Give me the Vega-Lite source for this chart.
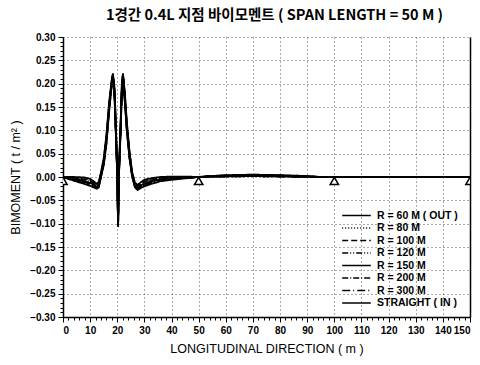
{
  "$schema": "https://vega.github.io/schema/vega-lite/v6.json",
  "width": 407,
  "height": 280,
  "autosize": "none",
  "padding": {"left": 63, "top": 37, "right": 10, "bottom": 48},
  "title": {"text": "1경간 0.4L 지점 바이모멘트 ( SPAN LENGTH = 50 M )", "font": "Noto Sans CJK KR", "fontSize": 14.5, "fontWeight": "bold", "color": "black", "offset": 9, "anchor": "middle", "dx": 8},
  "config": {
    "view": {"stroke": null},
    "axis": {"labelFont": "Liberation Sans", "labelFontWeight": "bold", "labelFontSize": 10, "labelColor": "black", "tickColor": "black", "domainColor": "black", "domainWidth": 1.5, "tickWidth": 1, "titleFont": "Liberation Sans", "titleFontWeight": "normal", "titleFontSize": 12.5, "titleColor": "black"}
  },
  "resolve": {"axis": {"x": "independent", "y": "independent"}},
  "layer": [
    {
      "data": {"values": [
        {"x":0,"r60":0,"r80":0,"r100":0,"r120":0,"r150":0,"r200":0,"r300":0,"str":0},
        {"x":4,"r60":0,"r80":-0.001,"r100":-0.002,"r120":-0.003,"r150":-0.005,"r200":-0.006,"r300":-0.007,"str":-0.008},
        {"x":8,"r60":-0.001,"r80":-0.003,"r100":-0.005,"r120":-0.007,"r150":-0.009,"r200":-0.011,"r300":-0.013,"str":-0.015},
        {"x":10,"r60":-0.004,"r80":-0.006,"r100":-0.008,"r120":-0.010,"r150":-0.013,"r200":-0.015,"r300":-0.017,"str":-0.019},
        {"x":11.5,"r60":-0.010,"r80":-0.012,"r100":-0.014,"r120":-0.016,"r150":-0.017,"r200":-0.019,"r300":-0.021,"str":-0.023},
        {"x":12.5,"r60":-0.015,"r80":-0.016,"r100":-0.018,"r120":-0.019,"r150":-0.021,"r200":-0.022,"r300":-0.024,"str":-0.025},
        {"x":13.2,"r60":-0.010,"r80":-0.012,"r100":-0.013,"r120":-0.015,"r150":-0.017,"r200":-0.019,"r300":-0.020,"str":-0.022},
        {"x":14,"r60":0.010,"r80":0.009,"r100":0.007,"r120":0.006,"r150":0.004,"r200":0.003,"r300":0.001,"str":0},
        {"x":15,"r60":0.040,"r80":0.038,"r100":0.036,"r120":0.034,"r150":0.031,"r200":0.029,"r300":0.027,"str":0.025},
        {"x":16,"r60":0.090,"r80":0.087,"r100":0.084,"r120":0.081,"r150":0.079,"r200":0.076,"r300":0.073,"str":0.070},
        {"x":17,"r60":0.160,"r80":0.157,"r100":0.154,"r120":0.151,"r150":0.149,"r200":0.146,"r300":0.143,"str":0.140},
        {"x":18,"r60":0.210,"r80":0.209,"r100":0.207,"r120":0.206,"r150":0.204,"r200":0.203,"r300":0.201,"str":0.200},
        {"x":18.4,"r60":0.222,"r80":0.221,"r100":0.220,"r120":0.219,"r150":0.217,"r200":0.216,"r300":0.215,"str":0.214},
        {"x":19,"r60":0.190,"r80":0.187,"r100":0.184,"r120":0.181,"r150":0.179,"r200":0.176,"r300":0.173,"str":0.170},
        {"x":19.6,"r60":0.090,"r80":0.087,"r100":0.084,"r120":0.081,"r150":0.079,"r200":0.076,"r300":0.073,"str":0.070},
        {"x":20,"r60":0.010,"r80":0.009,"r100":0.007,"r120":0.006,"r150":0.004,"r200":0.003,"r300":0.001,"str":0},
        {"x":20.3,"r60":-0.095,"r80":-0.097,"r100":-0.099,"r120":-0.101,"r150":-0.103,"r200":-0.104,"r300":-0.106,"str":-0.107},
        {"x":20.6,"r60":0.010,"r80":0.009,"r100":0.007,"r120":0.006,"r150":0.004,"r200":0.003,"r300":0.001,"str":0},
        {"x":21.2,"r60":0.110,"r80":0.107,"r100":0.104,"r120":0.101,"r150":0.099,"r200":0.096,"r300":0.093,"str":0.090},
        {"x":21.7,"r60":0.200,"r80":0.198,"r100":0.196,"r120":0.194,"r150":0.191,"r200":0.189,"r300":0.187,"str":0.185},
        {"x":22.1,"r60":0.222,"r80":0.221,"r100":0.220,"r120":0.219,"r150":0.217,"r200":0.216,"r300":0.215,"str":0.214},
        {"x":22.8,"r60":0.180,"r80":0.177,"r100":0.174,"r120":0.171,"r150":0.169,"r200":0.166,"r300":0.163,"str":0.160},
        {"x":23.5,"r60":0.120,"r80":0.117,"r100":0.114,"r120":0.111,"r150":0.109,"r200":0.106,"r300":0.103,"str":0.100},
        {"x":24.5,"r60":0.055,"r80":0.053,"r100":0.051,"r120":0.049,"r150":0.046,"r200":0.044,"r300":0.042,"str":0.040},
        {"x":25.5,"r60":0.010,"r80":0.009,"r100":0.007,"r120":0.006,"r150":0.004,"r200":0.003,"r300":0.001,"str":0},
        {"x":26.5,"r60":-0.012,"r80":-0.013,"r100":-0.015,"r120":-0.016,"r150":-0.018,"r200":-0.019,"r300":-0.021,"str":-0.022},
        {"x":27.5,"r60":-0.017,"r80":-0.019,"r100":-0.020,"r120":-0.022,"r150":-0.023,"r200":-0.025,"r300":-0.026,"str":-0.028},
        {"x":28.5,"r60":-0.012,"r80":-0.014,"r100":-0.015,"r120":-0.017,"r150":-0.019,"r200":-0.021,"r300":-0.022,"str":-0.024},
        {"x":30,"r60":-0.006,"r80":-0.008,"r100":-0.010,"r120":-0.012,"r150":-0.014,"r200":-0.016,"r300":-0.018,"str":-0.020},
        {"x":33,"r60":-0.002,"r80":-0.004,"r100":-0.005,"r120":-0.007,"r150":-0.009,"r200":-0.011,"r300":-0.012,"str":-0.014},
        {"x":36,"r60":0,"r80":-0.001,"r100":-0.003,"r120":-0.004,"r150":-0.005,"r200":-0.006,"r300":-0.008,"str":-0.009},
        {"x":40,"r60":0.001,"r80":0,"r100":-0.001,"r120":-0.002,"r150":-0.003,"r200":-0.004,"r300":-0.005,"str":-0.006},
        {"x":45,"r60":0.001,"r80":0,"r100":0,"r120":-0.001,"r150":-0.001,"r200":-0.002,"r300":-0.002,"str":-0.003},
        {"x":50,"r60":0,"r80":0,"r100":0,"r120":0,"r150":0,"r200":0,"r300":0,"str":0},
        {"x":55,"r60":0.002,"r80":0.002,"r100":0.002,"r120":0.002,"r150":0.001,"r200":0.001,"r300":0.001,"str":0.001},
        {"x":60,"r60":0.004,"r80":0.004,"r100":0.003,"r120":0.003,"r150":0.002,"r200":0.002,"r300":0.001,"str":0.001},
        {"x":70,"r60":0.005,"r80":0.005,"r100":0.004,"r120":0.004,"r150":0.003,"r200":0.003,"r300":0.002,"str":0.002},
        {"x":80,"r60":0.004,"r80":0.004,"r100":0.003,"r120":0.003,"r150":0.002,"r200":0.002,"r300":0.001,"str":0.001},
        {"x":90,"r60":0.002,"r80":0.002,"r100":0.001,"r120":0.001,"r150":0.001,"r200":0.001,"r300":0,"str":0},
        {"x":95,"r60":0,"r80":0,"r100":0,"r120":0,"r150":0,"r200":0,"r300":0,"str":0},
        {"x":150,"r60":0,"r80":0,"r100":0,"r120":0,"r150":0,"r200":0,"r300":0,"str":0}
      ]},
      "transform": [{"fold": ["r60","r80","r100","r120","r150","r200","r300","str"], "as": ["s","y"]}],
      "mark": {"type": "line", "color": "black", "strokeWidth": 1.8, "clip": true},
      "encoding": {
        "x": {"field": "x", "type": "quantitative", "scale": {"domain": [0,150], "nice": false},
              "axis": {"orient": "bottom", "values": [0,10,20,30,40,50,60,70,80,90,100,110,120,130,140,150], "grid": true, "gridDash": [1,3], "gridColor": "#555", "gridWidth": 1, "tickSize": 5, "labelPadding": 3, "title": "LONGITUDINAL DIRECTION  ( m )", "titlePadding": 7}},
        "y": {"field": "y", "type": "quantitative", "scale": {"domain": [-0.3,0.3], "nice": false, "zero": false},
              "axis": {"orient": "left", "values": [-0.3,-0.25,-0.2,-0.15,-0.1,-0.05,0,0.05,0.1,0.15,0.2,0.25,0.3], "format": ".2f", "grid": true, "gridDash": [1,3], "gridColor": "#555", "gridWidth": 1, "tickSize": 5, "labelPadding": 3, "title": "BIMOMENT ( t / m² )", "titlePadding": 7}},
        "strokeDash": {"field": "s", "type": "nominal",
              "scale": {"domain": ["r60","r80","r100","r120","r150","r200","r300","str"], "range": [[1,0],[1,2],[6,3],[6,2,1,2,1,2],[1,0],[6,2,1,2],[8,3,1,3],[1,0]]},
              "legend": {"title": null, "orient": "none", "legendX": 287, "legendY": 172, "symbolType": "M-2.6,0H2.6", "symbolSize": 121, "symbolStrokeWidth": 1.6, "symbolStrokeColor": "black", "labelFont": "Liberation Sans", "labelFontWeight": "bold", "labelFontSize": 10.5, "labelColor": "black", "rowPadding": 0.5, "labelOffset": 14,
                "labelExpr": "{'r60':'R = 60 M ( OUT )','r80':'R = 80 M','r100':'R = 100 M','r120':'R = 120 M','r150':'R = 150 M','r200':'R = 200 M','r300':'R = 300 M','str':'STRAIGHT ( IN )'}[datum.label]"}}
      }
    },
    {
      "data": {"values": [{"x":0,"y":-0.0085},{"x":50,"y":-0.0085},{"x":100,"y":-0.0085},{"x":150,"y":-0.0085}]},
      "mark": {"type": "point", "shape": "triangle-up", "filled": true, "fill": "white", "stroke": "black", "strokeWidth": 1.5, "size": 70, "opacity": 1, "clip": true},
      "encoding": {
        "x": {"field": "x", "type": "quantitative", "scale": {"domain": [0,150], "nice": false},
              "axis": {"orient": "bottom", "values": [2,4,6,8,12,14,16,18,22,24,26,28,32,34,36,38,42,44,46,48,52,54,56,58,62,64,66,68,72,74,76,78,82,84,86,88,92,94,96,98,102,104,106,108,112,114,116,118,122,124,126,128,132,134,136,138,142,144,146,148], "labels": false, "domain": false, "grid": false, "tickSize": 3, "title": null}},
        "y": {"field": "y", "type": "quantitative", "scale": {"domain": [-0.3,0.3], "nice": false, "zero": false},
              "axis": {"orient": "left", "values": [-0.29,-0.28,-0.27,-0.26,-0.24,-0.23,-0.22,-0.21,-0.19,-0.18,-0.17,-0.16,-0.14,-0.13,-0.12,-0.11,-0.09,-0.08,-0.07,-0.06,-0.04,-0.03,-0.02,-0.01,0.01,0.02,0.03,0.04,0.06,0.07,0.08,0.09,0.11,0.12,0.13,0.14,0.16,0.17,0.18,0.19,0.21,0.22,0.23,0.24,0.26,0.27,0.28,0.29], "labels": false, "domain": false, "grid": false, "tickSize": 3, "title": null}}
      }
    },
    {
      "data": {"values": [{"x":0,"y":0}]},
      "mark": {"type": "point", "opacity": 0},
      "encoding": {
        "x": {"field": "x", "type": "quantitative", "scale": {"domain": [0,150], "nice": false}, "axis": null},
        "y": {"field": "y", "type": "quantitative", "scale": {"domain": [-0.3,0.3], "nice": false, "zero": false},
              "axis": {"orient": "right", "labels": false, "ticks": false, "grid": false, "domain": true, "title": null}}
      }
    }
  ]
}
